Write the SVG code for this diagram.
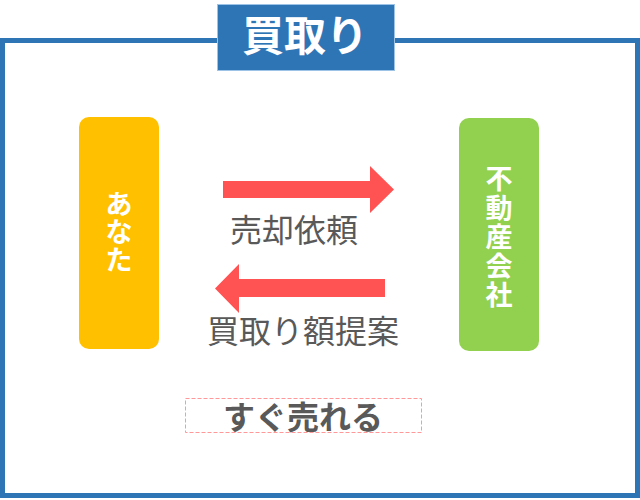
<svg xmlns="http://www.w3.org/2000/svg" width="640" height="500" viewBox="0 0 640 500">
<style>
.jp{font-family:"Noto Sans CJK JP","Noto Sans",sans-serif;}
.wb{fill:#FFFFFF;font-weight:bold;text-anchor:middle;}
.lbl{fill:#595959;font-size:32px;text-anchor:middle;}
.arrow{fill:#FF5353;}
</style>
<rect width="640" height="500" fill="#FFFFFF"/>
<g id="frame">
<rect x="2.5" y="40.5" width="635" height="455" fill="none" stroke="#2E75B6" stroke-width="5"/>
</g>
<g id="title">
<rect x="217.5" y="4.5" width="177" height="66" fill="#2E75B6" stroke="#9DC3E6" stroke-width="1"/>
<text class="jp" x="305" y="51" fill="#FFFFFF" font-weight="bold" font-size="42" text-anchor="middle">買取り</text>
</g>
<g id="you">
<rect x="79" y="117" width="80" height="232" rx="10" fill="#FFC000"/>
<text class="jp wb" x="119" y="214" font-size="27">あ</text>
<text class="jp wb" x="119" y="242" font-size="27">な</text>
<text class="jp wb" x="119" y="270" font-size="27">た</text>
</g>
<g id="company">
<rect x="459" y="118" width="80" height="233" rx="10" fill="#92D050"/>
<text class="jp wb" x="499" y="189" font-size="27">不</text>
<text class="jp wb" x="499" y="218" font-size="27">動</text>
<text class="jp wb" x="499" y="247" font-size="27">産</text>
<text class="jp wb" x="499" y="276" font-size="27">会</text>
<text class="jp wb" x="499" y="305" font-size="27">社</text>
</g>
<g id="connectors">
<polygon class="arrow" points="223,181 370,181 370,166 394,189.5 370,213 370,198 223,198"/>
<text class="jp lbl" x="294" y="242">売却依頼</text>
<polygon class="arrow" points="385,279 239,279 239,264 215,288.5 239,313 239,297 385,297"/>
<text class="jp lbl" x="303" y="343">買取り額提案</text>
</g>
<g id="result">
<rect x="185.5" y="398.5" width="236" height="34" fill="none" stroke="#FF9999" stroke-width="1" stroke-dasharray="4,2"/>
<text class="jp" x="303" y="429" fill="#595959" font-weight="bold" font-size="32" text-anchor="middle">すぐ売れる</text>
</g>
</svg>
